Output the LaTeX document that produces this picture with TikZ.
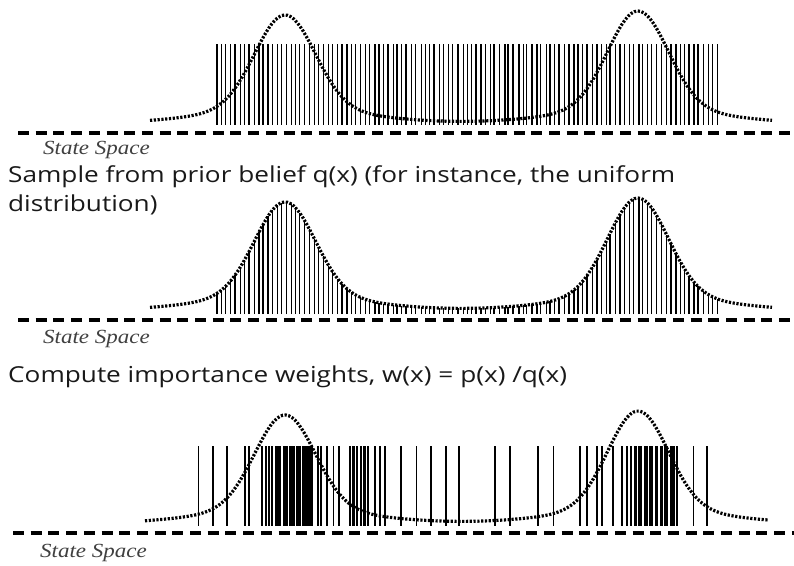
\documentclass[tikz,border=0pt]{standalone}
\usepackage{fontspec}
\setmainfont{Open Sans}
\newfontfamily\ssfont{Liberation Serif}
\usetikzlibrary{positioning}
\newcommand\wide[2][1.15]{\scalebox{#1}[1]{#2}}
\tikzset{
  axisln/.style ={line width=4pt,dash pattern=on 11pt off 6.7pt},
  dens/.style   ={line width=3.2pt,dash pattern=on 2.2pt off 1.6pt},
  captxt/.style ={inner sep=0pt,anchor=base west,text=black!90,font=\fontsize{22}{26}\selectfont},
  sstxt/.style  ={inner sep=0pt,anchor=base west,text=black!75,font=\ssfont\itshape\fontsize{20}{22}\selectfont},
  declare function={bump(\x)=3+94*exp(-0.5*((\x-285)/30)^2)+15*exp(-0.5*((\x-285)/80)^2)
                              +98*exp(-0.5*((\x-638)/30)^2)+15*exp(-0.5*((\x-638)/80)^2);},
}
\begin{document}
\begin{tikzpicture}[x=1pt,y=-1pt]
  \useasboundingbox[fill=white] (0,0) rectangle (794,565);
  % uniform samples, then the same samples weighted
  \pgfmathsetseed{11}
  \foreach \i in {0,...,108}{
    \pgfmathsetmacro\xx{217+4.63*\i+1.6*(rnd-0.5)}
    \pgfmathsetmacro\lw{0.9+0.9*rnd}
    \pgfmathsetmacro\yy{314-bump(\xx)}
    \draw[line width=\lw pt] (\xx,44) -- (\xx,125);
    \draw[line width=\lw pt] (\xx,314) -- (\xx,\yy);
  }
  \draw[dens] plot[domain=150:772,samples=200] (\x,{127-bump(\x)});
  \draw[axisln] (18,133) -- (794,133);
  \node[sstxt] (ss1) at (43,154) {\wide{State Space}};

  \node[captxt] (cap1) at (8,182) {\wide[1.19]{Sample from prior belief q(x) (for instance, the uniform}};
  \node[captxt] (cap1b) at (8,211) {\wide[1.19]{distribution)}};
  \draw[dens] plot[domain=150:772,samples=200] (\x,{314-bump(\x)});
  \draw[axisln] (18,320) -- (794,320);
  \node[sstxt] (ss2) at (43,343) {\wide{State Space}};

  \node[captxt] (cap2) at (8,382) {\wide[1.19]{Compute importance weights, w(x) = p(x) /q(x)}};
  \foreach \xx/\w in {198/1.0,213/1.6,227/1.6,245/1.6,249/1.6,262/2,265.5/2,269/2.5,272/1.5,
      278/6,285/5,291.5/6,298/5,304.5/6,310.5/4.5,318/1.6,321/1.6,327/1.6,333/0.8,339/1.6,
      350/2,353.5/3,357/2,361/2,364.5/3,368/2,375/1.6,380/1.6,385/1.6,401/1.8,416/0.7,
      431/1.8,446/1.8,459/1.8,495/1.8,510/1.4,538/1.8,553/0.7,580/1.2,587/1.5,597/1.5,
      602/1.5,613/1.5,622/2,627/2.5,631/2,635/3,640/4,645.5/4,651/4,656/3,661/3,666/4,
      672/5,677/2,693/0.9,707/1.3}
    \draw[line width=\w pt] (\xx,446) -- (\xx,526);
  \draw[dens] plot[domain=145:768,samples=200] (\x,{527-bump(\x)});
  \draw[axisln] (13,533) -- (794,533);
  \node[sstxt] (ss3) at (40,557) {\wide{State Space}};
\end{tikzpicture}
\end{document}
